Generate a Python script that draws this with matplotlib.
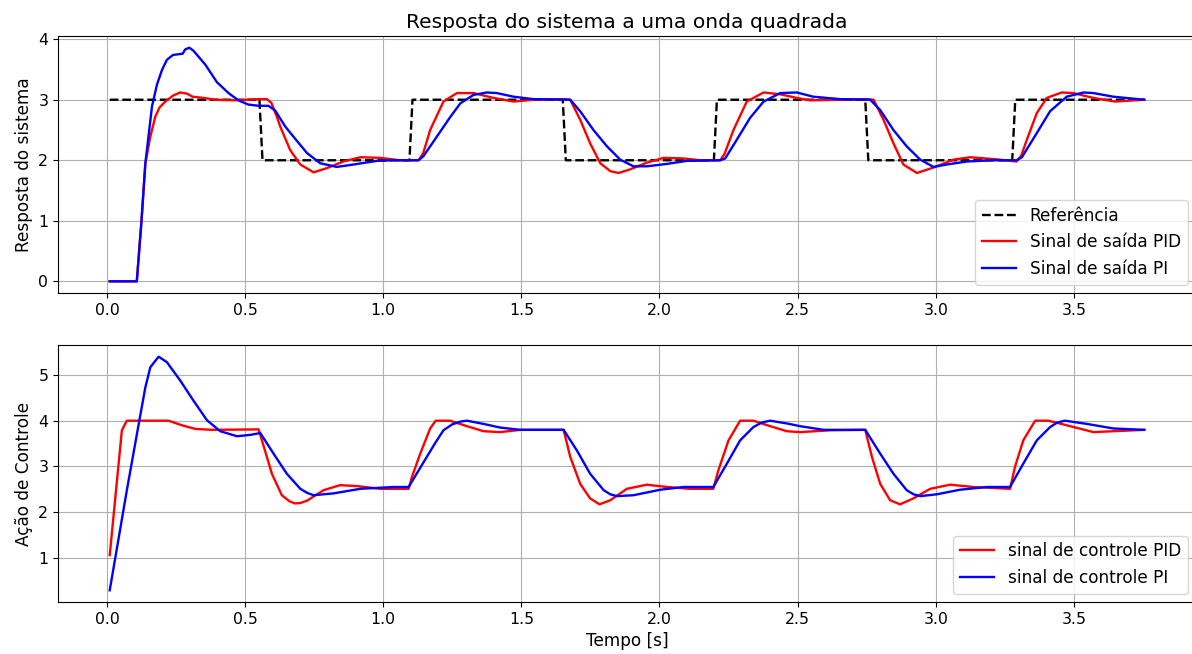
import matplotlib
matplotlib.use("Agg")
import matplotlib.pyplot as plt

# reference square wave
t_ref = [0.01, 0.552, 0.563, 1.095, 1.106, 1.650, 1.661, 2.197, 2.208, 2.745, 2.756, 3.277, 3.288, 3.755]
y_ref = [3, 3, 2, 2, 3, 3, 2, 2, 3, 3, 2, 2, 3, 3]

# system output with PID
t_out_pid = [0.01, 0.108, 0.125, 0.139, 0.157, 0.175, 0.190, 0.211, 0.240, 0.265, 0.290, 0.310, 0.350, 0.392,
             0.464, 0.549, 0.579, 0.595, 0.615, 0.627, 0.663, 0.700, 0.748, 0.796, 0.856, 0.917, 0.989, 1.061,
             1.128, 1.145, 1.170, 1.218, 1.267, 1.327, 1.399, 1.472, 1.544, 1.653, 1.677, 1.713, 1.749, 1.786,
             1.822, 1.852, 1.894, 1.954, 2.015, 2.087, 2.147, 2.220, 2.235, 2.268, 2.316, 2.377, 2.437, 2.497,
             2.545, 2.654, 2.751, 2.775, 2.811, 2.847, 2.883, 2.932, 2.992, 3.064, 3.124, 3.209, 3.293, 3.310,
             3.330, 3.366, 3.402, 3.456, 3.498, 3.571, 3.649, 3.755]
y_out_pid = [0, 0, 1.0, 1.95, 2.39, 2.72, 2.87, 2.97, 3.07, 3.12, 3.10, 3.05, 3.03, 3.00,
             2.99, 3.01, 3.01, 2.95, 2.72, 2.56, 2.17, 1.93, 1.80, 1.87, 1.98, 2.05, 2.04, 2.00,
             2.00, 2.12, 2.50, 2.97, 3.11, 3.11, 3.03, 2.97, 3.00, 3.01, 3.00, 2.67, 2.28, 1.95,
             1.82, 1.79, 1.85, 1.96, 2.04, 2.03, 2.00, 2.00, 2.10, 2.50, 2.97, 3.12, 3.09, 3.03,
             2.99, 3.00, 3.01, 3.00, 2.67, 2.28, 1.93, 1.79, 1.88, 2.01, 2.05, 2.02, 1.98, 2.08,
             2.34, 2.78, 3.03, 3.12, 3.11, 3.03, 2.97, 3.00]

# system output with PI
t_out_pi = [0.01, 0.108, 0.125, 0.139, 0.163, 0.181, 0.199, 0.217, 0.239, 0.274, 0.283, 0.298, 0.313, 0.356,
            0.398, 0.440, 0.476, 0.512, 0.549, 0.585, 0.609, 0.645, 0.675, 0.724, 0.772, 0.832, 0.893, 0.977,
            1.037, 1.128, 1.146, 1.194, 1.242, 1.279, 1.327, 1.375, 1.411, 1.472, 1.544, 1.677, 1.713, 1.761,
            1.810, 1.858, 1.906, 1.954, 2.027, 2.099, 2.220, 2.238, 2.280, 2.328, 2.377, 2.437, 2.497, 2.557,
            2.654, 2.763, 2.799, 2.847, 2.895, 2.944, 2.992, 3.040, 3.113, 3.209, 3.293, 3.312, 3.366, 3.414,
            3.474, 3.535, 3.571, 3.643, 3.755]
y_out_pi = [0, 0, 1.0, 1.95, 2.89, 3.25, 3.49, 3.66, 3.74, 3.76, 3.83, 3.86, 3.81, 3.58,
            3.29, 3.11, 2.99, 2.92, 2.90, 2.90, 2.82, 2.56, 2.39, 2.12, 1.95, 1.89, 1.93, 1.99,
            2.00, 2.00, 2.07, 2.39, 2.71, 2.94, 3.08, 3.12, 3.11, 3.05, 3.01, 3.00, 2.81, 2.50,
            2.23, 2.01, 1.90, 1.90, 1.94, 1.99, 2.00, 2.03, 2.34, 2.70, 2.97, 3.11, 3.12, 3.05,
            3.01, 3.00, 2.83, 2.50, 2.23, 2.01, 1.89, 1.93, 1.98, 2.00, 2.00, 2.05, 2.45, 2.81,
            3.05, 3.12, 3.11, 3.05, 3.00]

# control action with PID
t_u_pid = [0.01, 0.054, 0.072, 0.223, 0.271, 0.320, 0.380, 0.549, 0.561, 0.597, 0.633, 0.660, 0.681, 0.700,
           0.724, 0.784, 0.844, 0.905, 0.989, 1.092, 1.104, 1.134, 1.170, 1.190, 1.242, 1.303, 1.363, 1.423,
           1.496, 1.653, 1.677, 1.713, 1.749, 1.783, 1.822, 1.882, 1.954, 2.027, 2.111, 2.195, 2.213, 2.250,
           2.292, 2.340, 2.401, 2.461, 2.509, 2.618, 2.745, 2.769, 2.799, 2.835, 2.871, 2.919, 2.980, 3.052,
           3.136, 3.269, 3.287, 3.317, 3.360, 3.408, 3.474, 3.571, 3.643, 3.755]
y_u_pid = [1.06, 3.79, 4.00, 4.00, 3.90, 3.82, 3.80, 3.81, 3.57, 2.84, 2.37, 2.24, 2.19, 2.20,
           2.25, 2.48, 2.59, 2.57, 2.51, 2.51, 2.77, 3.28, 3.83, 4.00, 4.00, 3.88, 3.77, 3.75,
           3.80, 3.80, 3.21, 2.62, 2.30, 2.17, 2.26, 2.51, 2.60, 2.55, 2.51, 2.51, 2.91, 3.57,
           4.00, 4.00, 3.88, 3.77, 3.75, 3.79, 3.80, 3.21, 2.62, 2.26, 2.17, 2.30, 2.51, 2.60,
           2.55, 2.51, 2.99, 3.57, 4.00, 4.00, 3.90, 3.75, 3.77, 3.80]

# control action with PI
t_u_pi = [0.01, 0.072, 0.115, 0.139, 0.157, 0.187, 0.217, 0.265, 0.313, 0.362, 0.410, 0.471, 0.519, 0.555,
          0.603, 0.651, 0.700, 0.725, 0.748, 0.820, 0.917, 1.037, 1.092, 1.125, 1.158, 1.190, 1.218, 1.250,
          1.279, 1.303, 1.363, 1.423, 1.496, 1.653, 1.701, 1.749, 1.798, 1.822, 1.846, 1.906, 2.003, 2.087,
          2.195, 2.244, 2.292, 2.340, 2.370, 2.401, 2.461, 2.509, 2.594, 2.745, 2.799, 2.847, 2.895, 2.920,
          2.944, 3.004, 3.088, 3.185, 3.269, 3.317, 3.366, 3.414, 3.440, 3.468, 3.547, 3.643, 3.755]
y_u_pi = [0.29, 2.48, 3.93, 4.73, 5.17, 5.40, 5.28, 4.88, 4.44, 4.01, 3.77, 3.66, 3.69, 3.73,
          3.28, 2.84, 2.51, 2.42, 2.37, 2.41, 2.51, 2.55, 2.55, 2.88, 3.21, 3.53, 3.79, 3.92,
          3.98, 4.00, 3.93, 3.85, 3.80, 3.80, 3.35, 2.84, 2.48, 2.39, 2.35, 2.37, 2.49, 2.55,
          2.55, 3.06, 3.57, 3.86, 3.96, 4.00, 3.94, 3.88, 3.80, 3.80, 3.28, 2.84, 2.48, 2.39,
          2.35, 2.39, 2.49, 2.55, 2.55, 3.06, 3.57, 3.86, 3.96, 4.00, 3.93, 3.83, 3.80]

fs = 11.3
fs_lab = 12.2
lw = 1.7
plt.rcParams['font.size'] = fs

fig = plt.figure(figsize=(11.92, 6.54), dpi=100)
ax1 = fig.add_axes([58 / 1192, 1 - 293 / 654, 1138 / 1192, 257 / 654])
ax2 = fig.add_axes([58 / 1192, 1 - 602 / 654, 1138 / 1192, 257 / 654])

ax1.plot(t_ref, y_ref, 'k--', linewidth=lw, label='Referência')
ax1.plot(t_out_pid, y_out_pid, color='red', linewidth=lw, label='Sinal de saída PID')
ax1.plot(t_out_pi, y_out_pi, color='blue', linewidth=lw, label='Sinal de saída PI')
ax1.set_title('Resposta do sistema a uma onda quadrada', fontsize=14.6)
ax1.set_ylabel('Resposta do sistema', fontsize=fs_lab)
ax1.grid(True)
ax1.legend(loc='lower right', fontsize=fs_lab)

ax2.plot(t_u_pid, y_u_pid, color='red', linewidth=lw, label='sinal de controle PID')
ax2.plot(t_u_pi, y_u_pi, color='blue', linewidth=lw, label='sinal de controle PI')
ax2.set_ylabel('Ação de Controle', fontsize=fs_lab)
ax2.set_xlabel('Tempo [s]', fontsize=fs_lab)
ax2.grid(True)
ax2.legend(loc='lower right', fontsize=fs_lab)

fig.savefig('out.png', dpi=100)
